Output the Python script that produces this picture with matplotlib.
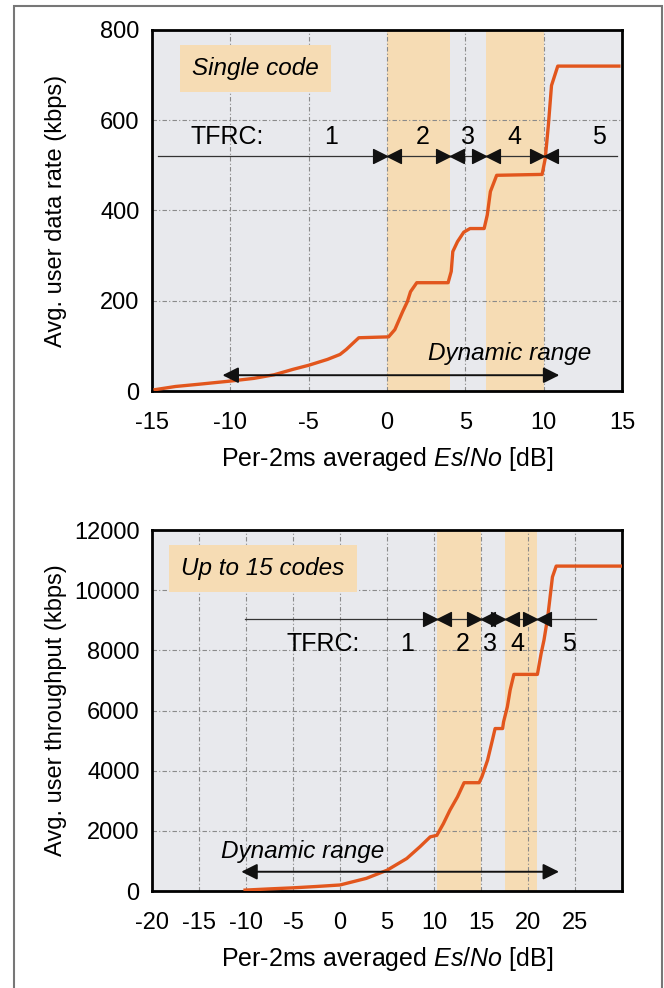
import matplotlib
matplotlib.use("Agg")
import matplotlib.pyplot as plt
from matplotlib.path import Path
from matplotlib.patches import Rectangle

plt.rcParams['font.family'] = ['Liberation Sans', 'DejaVu Sans']
plt.rcParams['mathtext.fontset'] = 'custom'
plt.rcParams['mathtext.rm'] = 'Liberation Sans'
plt.rcParams['mathtext.it'] = 'Liberation Sans:italic'
plt.rcParams['axes.unicode_minus'] = False

# --- data ---
# single code
esno_1 = [-14.8, -13.5, -12.0, -10.0, -8.5, -7.2, -6.0, -5.0, -3.8, -3.0, -2.6, -2.2,
          -1.8, 0.1, 0.5, 1.0, 1.3, 1.5, 1.9, 3.9, 4.1, 4.2, 4.5, 4.9, 5.3, 6.2, 6.4,
          6.6, 7.0, 9.9, 10.1, 10.3, 10.5, 10.9, 14.8]
rate_1 = [3, 10, 15, 22, 28, 36, 48, 57, 70, 81, 92, 105,
          118, 120, 136, 176, 198, 220, 240, 240, 265, 309, 331, 352, 360, 360, 390,
          442, 478, 480, 515, 589, 677, 720, 720]
tfrc_edges_1 = [0, 4, 6.3, 10]
bands_1 = [(0, 4), (6.3, 10)]
tfrc_names = ['TFRC:', '1', '2', '3', '4', '5']
tfrc_text_x_1 = [-10.2, -3.6, 2.3, 5.2, 8.1, 13.5]
tfrc_line_1 = (-14.6, 14.7, 520)
tfrc_text_y_1 = 562
dyn_range_1 = (-10.5, 11.0, 35)

# up to 15 codes
esno_2 = [-10.1, -7.5, -5.0, -2.5, 0.0, 2.8, 5.0, 7.1, 8.5, 9.6, 10.3, 11.0, 11.7,
          12.5, 13.2, 14.8, 15.1, 15.7, 16.2, 16.5, 17.3, 17.4, 17.8, 18.1, 18.5,
          21.0, 21.4, 21.7, 22.1, 22.6, 23.0, 30.0]
rate_2 = [30, 70, 105, 150, 200, 420, 690, 1080, 1470, 1800, 1850, 2240, 2690,
          3130, 3600, 3600, 3800, 4350, 5000, 5400, 5400, 5620, 6120, 6680, 7200,
          7200, 7900, 8340, 9110, 10440, 10800, 10800]
tfrc_edges_2 = [10.3, 15, 17.5, 21]
bands_2 = [(10.3, 15), (17.5, 21)]
tfrc_text_x_2 = [-1.8, 7.1, 13.0, 16.0, 18.9, 24.4]
tfrc_line_2 = (-10.1, 27.2, 9050)
tfrc_text_y_2 = 8200
dyn_range_2 = (-10.5, 23.3, 640)

ORANGE = '#e2561d'
PEACH = '#f6dcb4'
BG = '#e8e9ed'

# bow-tie marker: two triangles pointing at the boundary
bowtie = Path(
    [(-1, 0.5), (0, 0), (-1, -0.5), (-1, 0.5),
     (1, 0.5), (0, 0), (1, -0.5), (1, 0.5)],
    [Path.MOVETO, Path.LINETO, Path.LINETO, Path.CLOSEPOLY] * 2)


def draw_panel(ax, x, y, bands, edges, line, text_x, text_y, dyn, dyn_text_xy,
               title, title_xy, xlim, ylim, xticks, yticks, ylabel):
    ax.set_facecolor(BG)
    for lo, hi in bands:
        ax.axvspan(lo, hi, color=PEACH, lw=0, zorder=1)
    ax.plot(x, y, color=ORANGE, lw=2.4, zorder=3, solid_joinstyle='round')

    x0, x1, yl = line
    ax.plot([x0, x1], [yl, yl], color='#333333', lw=0.9, zorder=2.5)
    ax.plot(edges, [yl] * len(edges), ls='none', marker=bowtie, ms=20,
            color='#111111', zorder=4)
    for name, tx in zip(tfrc_names, text_x):
        ax.text(tx, text_y, name, fontsize=18, ha='center', va='center', zorder=4)

    ax.annotate('', xy=(dyn[1], dyn[2]), xytext=(dyn[0], dyn[2]),
                arrowprops=dict(arrowstyle='<|-|>', color='#111111', lw=1.4,
                                mutation_scale=24, shrinkA=0, shrinkB=0), zorder=4)
    ax.text(dyn_text_xy[0], dyn_text_xy[1], 'Dynamic range', fontsize=17.5,
            style='italic', ha='center', va='center', zorder=4)

    ax.text(title_xy[0], title_xy[1], title, fontsize=17.5, style='italic',
            ha='center', va='center', zorder=4,
            bbox=dict(boxstyle='square,pad=0.5', fc=PEACH, ec='none'))

    ax.set_xlim(*xlim)
    ax.set_ylim(*ylim)
    ax.set_xticks(xticks)
    ax.set_yticks(yticks)
    ax.grid(True, color='#8a8a8a', ls=(0, (4, 2, 1, 2)), lw=0.8)
    ax.tick_params(length=0, labelsize=17)
    ax.tick_params(axis='x', pad=15)
    ax.tick_params(axis='y', pad=9)
    for s in ax.spines.values():
        s.set_linewidth(2)
    ax.set_ylabel(ylabel, fontsize=17)
    ax.yaxis.set_label_coords(-0.18, 0.5)
    ax.set_xlabel(r'Per-2ms averaged $\mathit{Es/No}$ [dB]', fontsize=18)
    ax.xaxis.set_label_coords(0.5, -0.15)


fig = plt.figure(figsize=(6.64, 9.88), dpi=100)
fig.add_artist(Rectangle((14 / 664, -0.05), 648 / 664, 1.05 - 6 / 988,
                         transform=fig.transFigure, fill=False,
                         ec='#777777', lw=1.5))

ax1 = fig.add_axes([152 / 664, 1 - 391 / 988, 470 / 664, 361 / 988])
draw_panel(ax1, esno_1, rate_1, bands_1, tfrc_edges_1, tfrc_line_1,
           tfrc_text_x_1, tfrc_text_y_1, dyn_range_1, (7.8, 84),
           'Single code', (-8.4, 715), (-15, 15), (0, 800),
           [-15, -10, -5, 0, 5, 10, 15], [0, 200, 400, 600, 800],
           'Avg. user data rate (kbps)')

ax2 = fig.add_axes([152 / 664, 1 - 891 / 988, 470 / 664, 361 / 988])
draw_panel(ax2, esno_2, rate_2, bands_2, tfrc_edges_2, tfrc_line_2,
           tfrc_text_x_2, tfrc_text_y_2, dyn_range_2, (-4.0, 1300),
           'Up to 15 codes', (-8.2, 10720), (-20, 30), (0, 12000),
           [-20, -15, -10, -5, 0, 5, 10, 15, 20, 25, 30],
           [0, 2000, 4000, 6000, 8000, 10000, 12000],
           'Avg. user throughput (kbps)')
ax2.set_xticklabels(['-20', '-15', '-10', '-5', '0', '5', '10', '15', '20', '25', ''])

fig.savefig('out.png', dpi=100)
